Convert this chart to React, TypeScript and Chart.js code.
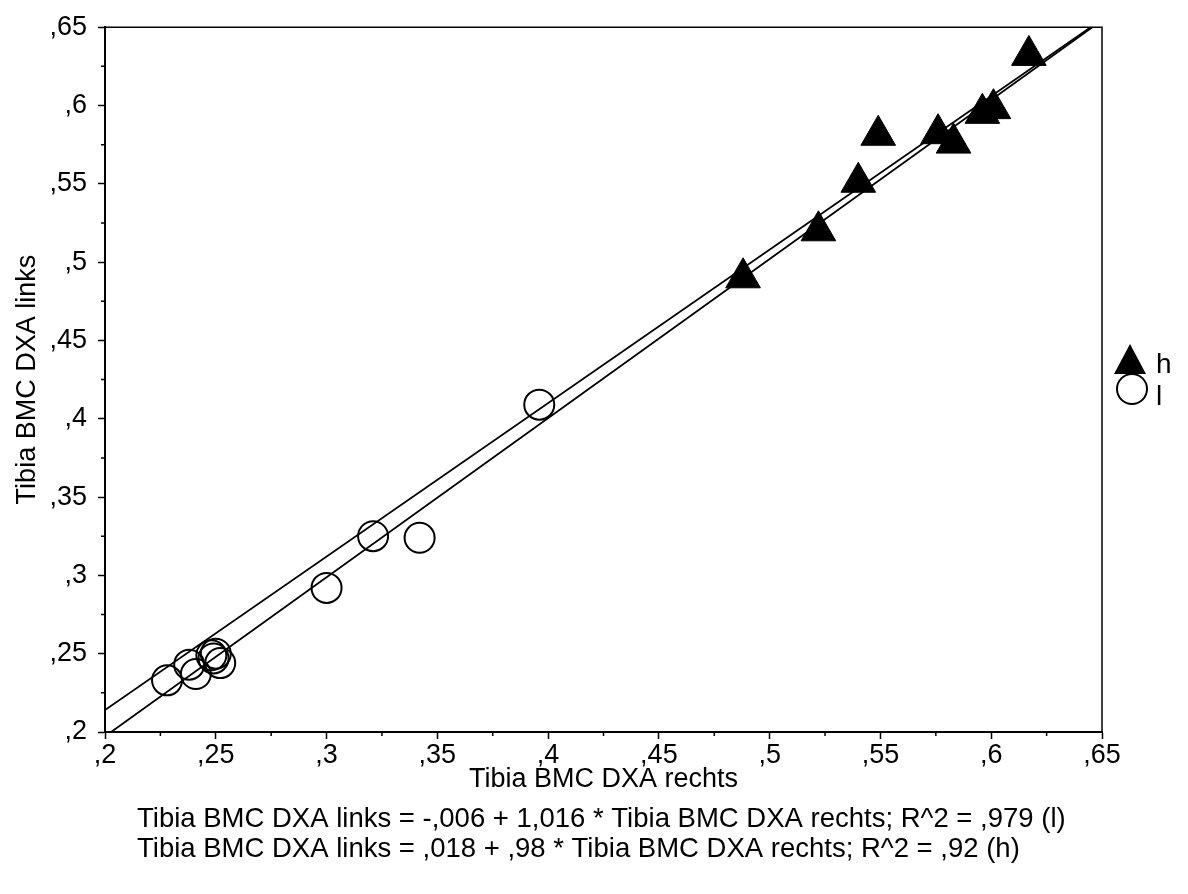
import React, { useEffect, useRef } from "react";
import { Chart, registerables } from "chart.js";

Chart.register(...registerables);

// ---- data ----
const hX = [0.488, 0.522, 0.540, 0.549, 0.576, 0.583, 0.596, 0.601, 0.617];
const hY = [0.490, 0.520, 0.551, 0.581, 0.582, 0.576, 0.595, 0.598, 0.632];

const lX = [0.396, 0.321, 0.342, 0.300, 0.228, 0.238, 0.241, 0.248, 0.250, 0.252, 0.249];
const lY = [0.409, 0.325, 0.324, 0.292, 0.233, 0.243, 0.237, 0.249, 0.250, 0.244, 0.247];

const regNames = ["l", "h"];
const regIntercepts = [-0.006, 0.018];
const regSlopes = [1.016, 0.98];

const axisMin = 0.2;
const axisMax = 0.65;
const tickValues = [0.2, 0.25, 0.3, 0.35, 0.4, 0.45, 0.5, 0.55, 0.6, 0.65];
const tickLabels = [",2", ",25", ",3", ",35", ",4", ",45", ",5", ",55", ",6", ",65"];
const minorTickValues = [0.225, 0.275, 0.325, 0.375, 0.425, 0.475, 0.525, 0.575, 0.625];

const xTitle = "Tibia BMC DXA rechts";
const yTitle = "Tibia BMC DXA links";
const legendLabels = ["h", "l"];
const footerLines = [
  "Tibia BMC DXA links = -,006 + 1,016 * Tibia BMC DXA rechts; R^2 = ,979 (l)",
  "Tibia BMC DXA links = ,018 + ,98 * Tibia BMC DXA rechts; R^2 = ,92 (h)",
];

const FONT = "'Liberation Sans', Arial, sans-serif";
const FS = 27;

const decorPlugin = {
  id: "decor",
  afterDraw(chart: any) {
    const { ctx, chartArea: ca, scales } = chart;
    const x = scales.x;
    const y = scales.y;
    ctx.save();
    ctx.strokeStyle = "#000";
    // top and right frame
    ctx.lineWidth = 1.5;
    ctx.beginPath();
    ctx.moveTo(ca.left, ca.top);
    ctx.lineTo(ca.right, ca.top);
    ctx.lineTo(ca.right, ca.bottom);
    ctx.stroke();
    // minor ticks
    ctx.lineWidth = 1.5;
    ctx.beginPath();
    minorTickValues.forEach((v) => {
      const px = x.getPixelForValue(v);
      ctx.moveTo(px, ca.bottom);
      ctx.lineTo(px, ca.bottom + 4);
      const py = y.getPixelForValue(v);
      ctx.moveTo(ca.left, py);
      ctx.lineTo(ca.left - 4, py);
    });
    ctx.stroke();

    // legend
    const lx = ca.right + 28;
    ctx.fillStyle = "#000";
    // triangle (h)
    ctx.beginPath();
    ctx.moveTo(lx, 344);
    ctx.lineTo(lx + 16, 374);
    ctx.lineTo(lx - 16, 374);
    ctx.closePath();
    ctx.fill();
    // circle (l)
    ctx.lineWidth = 2;
    ctx.beginPath();
    ctx.arc(lx + 2, 389, 15, 0, Math.PI * 2);
    ctx.stroke();
    ctx.font = `${FS + 1}px ${FONT}`;
    ctx.textAlign = "left";
    ctx.textBaseline = "alphabetic";
    ctx.fillText(legendLabels[0], lx + 26, 373);
    ctx.fillText(legendLabels[1], lx + 26, 405);

    // footer
    ctx.font = `${FS + 0.5}px ${FONT}`;
    footerLines.forEach((t, i) => {
      ctx.fillText(t, 137, 827 + i * 30);
    });
    ctx.restore();
  },
};

export default function App() {
  const ref = useRef<HTMLCanvasElement | null>(null);

  useEffect(() => {
    if (!ref.current) return;
    const regData = regNames.map((_, i) => [axisMin, axisMax].map((xv) => ({
      x: xv,
      y: regIntercepts[i] + regSlopes[i] * xv,
    })));

    const chart = new Chart(ref.current, {
      type: "scatter",
      data: {
        datasets: [
          {
            label: "h",
            data: hX.map((v, i) => ({ x: v, y: hY[i] })),
            pointStyle: "triangle",
            pointRadius: 20,
            pointHoverRadius: 20,
            backgroundColor: "#000",
            borderColor: "#000",
            borderWidth: 1,
          },
          {
            label: "l",
            data: lX.map((v, i) => ({ x: v, y: lY[i] })),
            pointStyle: "circle",
            pointRadius: 15,
            pointHoverRadius: 15,
            backgroundColor: "rgba(0,0,0,0)",
            borderColor: "#000",
            borderWidth: 2,
          },
          ...regData.map((d, i) => ({
            label: "fit " + regNames[i],
            data: d,
            showLine: true,
            pointRadius: 0,
            borderColor: "#000",
            borderWidth: 1.8,
            fill: false,
            clip: 0,
          })),
        ],
      } as any,
      options: {
        responsive: false,
        animation: false,
        devicePixelRatio: 1,
        layout: { padding: { top: 17, right: 86, left: 0, bottom: 0 } },
        plugins: {
          legend: { display: false },
          tooltip: { enabled: false },
        },
        scales: {
          x: {
            type: "linear",
            min: axisMin,
            max: axisMax,
            afterBuildTicks: (s: any) => {
              s.ticks = tickValues.map((v) => ({ value: v }));
            },
            afterFit: (s: any) => {
              s.height = 162;
            },
            grid: {
              drawOnChartArea: false,
              drawTicks: true,
              tickLength: 7,
              tickColor: "#000",
              tickWidth: 1.5,
            },
            border: { display: true, color: "#000", width: 2 },
            ticks: {
              color: "#000",
              padding: 0,
              maxRotation: 0,
              autoSkip: false,
              font: { family: FONT, size: FS },
              callback: (_v: any, i: number) => tickLabels[i],
            },
            title: {
              display: true,
              text: xTitle,
              color: "#000",
              font: { family: FONT, size: FS },
              padding: { top: 0, bottom: 98 },
            },
          },
          y: {
            type: "linear",
            min: axisMin,
            max: axisMax,
            afterBuildTicks: (s: any) => {
              s.ticks = tickValues.map((v) => ({ value: v }));
            },
            afterFit: (s: any) => {
              s.width = 105;
            },
            grid: {
              drawOnChartArea: false,
              drawTicks: true,
              tickLength: 7,
              tickColor: "#000",
              tickWidth: 1.5,
            },
            border: { display: true, color: "#000", width: 2 },
            ticks: {
              color: "#000",
              padding: 11,
              autoSkip: false,
              font: { family: FONT, size: FS },
              callback: (_v: any, i: number) => tickLabels[i],
            },
            title: {
              display: true,
              text: yTitle,
              color: "#000",
              font: { family: FONT, size: FS },
              padding: { top: 11, bottom: 0 },
            },
          },
        },
      } as any,
      plugins: [decorPlugin],
    });
    return () => chart.destroy();
  }, []);

  return (
    <div style={{ position: "absolute", left: 0, top: 0, width: 1188, height: 894, background: "#fff" }}>
      <canvas ref={ref} width={1188} height={894} style={{ display: "block", width: 1188, height: 894 }} />
    </div>
  );
}
